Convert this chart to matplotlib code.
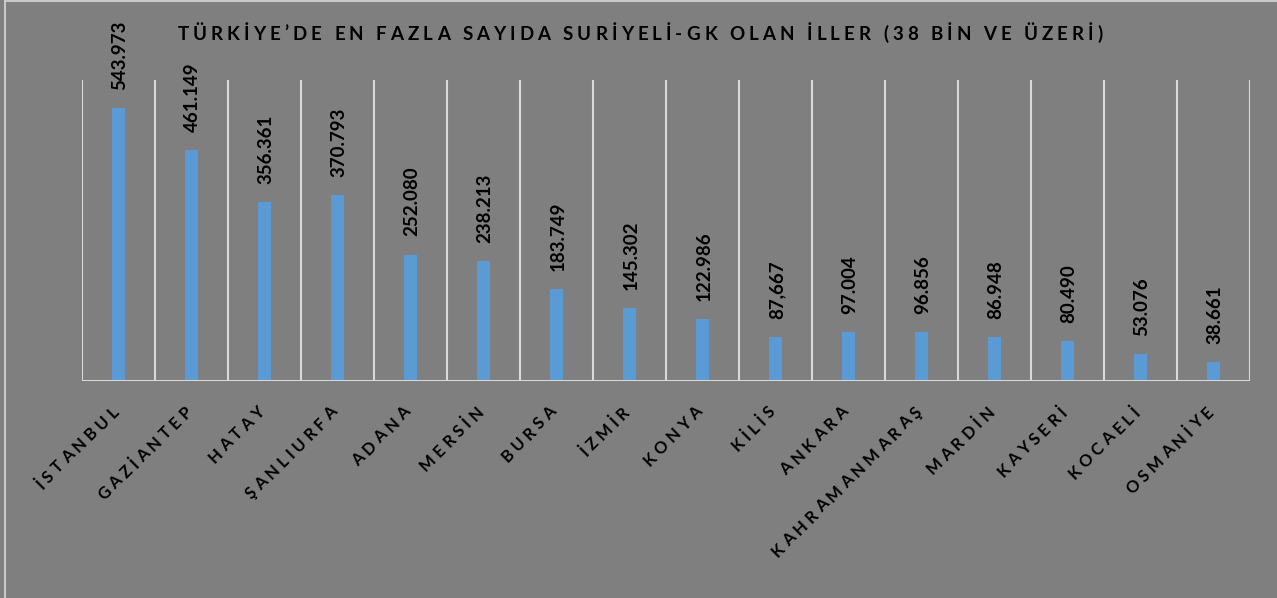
import matplotlib
matplotlib.use('Agg')
import numpy as np
import matplotlib.pyplot as plt
from matplotlib.patches import Rectangle
from matplotlib.transforms import IdentityTransform

plt.rcParams['font.family'] = ['Lato', 'DejaVu Sans']

cities = ['İSTANBUL', 'GAZİANTEP', 'HATAY', 'ŞANLIURFA', 'ADANA', 'MERSİN',
          'BURSA', 'İZMİR', 'KONYA', 'KİLİS', 'ANKARA', 'KAHRAMANMARAŞ',
          'MARDİN', 'KAYSERİ', 'KOCAELİ', 'OSMANİYE']
counts = [543973, 461149, 356361, 370793, 252080, 238213, 183749, 145302,
          122986, 87667, 97004, 96856, 86948, 80490, 53076, 38661]
value_labels = ['543.973', '461.149', '356.361', '370.793', '252.080', '238.213',
                '183.749', '145.302', '122.986', '87,667', '97.004', '96.856',
                '86.948', '80.490', '53.076', '38.661']
title = "TÜRKİYE’DE EN FAZLA SAYIDA SURİYELİ-GK OLAN İLLER (38 BİN VE ÜZERİ)"

BG = '#7f7f7f'
BAR = '#5b9bd5'
GRID = '#d9d9d9'

fig = plt.figure(figsize=(12.77, 5.98), dpi=100, facecolor=BG)
renderer = fig.canvas.get_renderer()


def char_w(ch, size):
    # advance of one character, measured between two H's
    a = fig.text(0, 0, 'H' + ch + 'H', fontsize=size, fontweight='bold')
    b = fig.text(0, 0, 'HH', fontsize=size, fontweight='bold')
    w = a.get_window_extent(renderer).width - b.get_window_extent(renderer).width
    a.remove()
    b.remove()
    return w


def spaced_text(x, y, s, size, gap, angle=0, align='center'):
    # letter-spaced text, x/y in pixels (baseline point)
    dx, dy = np.cos(np.radians(angle)), np.sin(np.radians(angle))
    widths = [char_w(ch, size) for ch in s]
    total = sum(widths) + gap * (len(s) - 1)
    back = total / 2 if align == 'center' else total
    pos = -back
    for ch, w in zip(s, widths):
        fig.text(x + pos * dx, y + pos * dy, ch, transform=IdentityTransform(),
                 rotation=angle, rotation_mode='anchor', ha='left',
                 va='baseline', fontsize=size, fontweight='bold', color='black')
        pos += w + gap


ax = fig.add_axes([82 / 1277, 217 / 598, 1168 / 1277, 301 / 598])
ax.set_facecolor(BG)

# frame line round the picture
fig.patches.append(Rectangle((4.5 / 1277, -0.01), 1.2, 1.01 - 1 / 598,
                             transform=fig.transFigure, fill=False,
                             edgecolor='#c8c8c8', lw=1.5))

x = list(range(len(cities)))
ax.bar(x, counts, width=0.19, color=BAR, zorder=3)

ax.set_xlim(-0.5, len(cities) - 0.5)
ax.set_ylim(0, 600000)
ax.vlines([i - 0.5 for i in range(len(cities) + 1)], 0, 600000,
          colors=GRID, lw=1.5, zorder=1)
ax.axhline(0, color=GRID, lw=2.2, zorder=4)

for s in ax.spines.values():
    s.set_visible(False)
ax.set_yticks([])
ax.set_xticks([])

for xi, v, lab in zip(x, counts, value_labels):
    ax.annotate(lab, (xi, v), xytext=(1, 13), textcoords='offset points',
                rotation=90, ha='center', va='bottom', fontsize=13.5,
                fontweight='bold', color='black')

# category labels, 45 degrees, ending just under each bar
for xi, name in zip(x, cities):
    px, py = ax.transData.transform((xi, 0))
    spaced_text(px + 1, py - 32, name, 12, 4, angle=45, align='right')

spaced_text(640, 598 - 40, title, 13.5, 4)

fig.savefig('out.png', dpi=100, facecolor=BG)
